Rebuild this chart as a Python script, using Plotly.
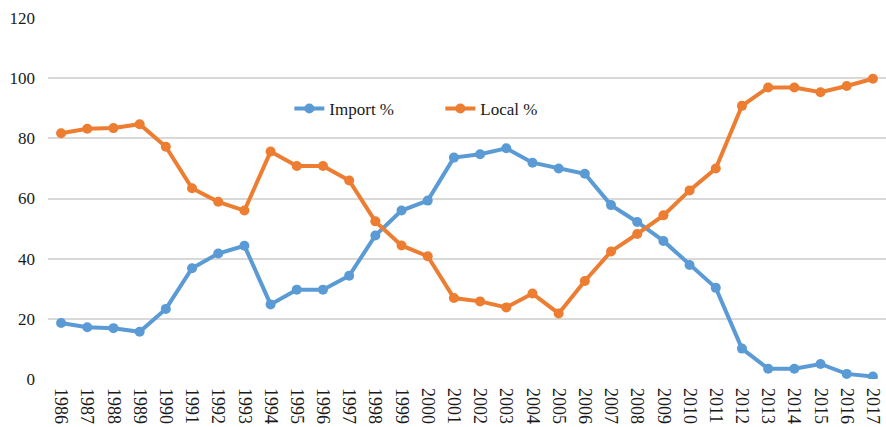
import plotly.graph_objects as go

years = [str(y) for y in range(1986, 2018)]
import_pct = [18.6, 17.2, 16.9, 15.7, 23.3, 36.8, 41.7, 44.3, 24.8, 29.7, 29.7, 34.3,
              47.7, 56.0, 59.3, 73.6, 74.7, 76.7, 71.9, 70.0, 68.2, 57.8, 52.2, 45.9,
              37.9, 30.3, 10.1, 3.4, 3.4, 5.0, 1.7, 0.8]
local_pct = [81.7, 83.2, 83.4, 84.7, 77.2, 63.4, 58.9, 56.0, 75.6, 70.8, 70.8, 66.0,
             52.4, 44.4, 40.8, 26.9, 25.8, 23.8, 28.4, 21.8, 32.6, 42.4, 48.2, 54.4,
             62.7, 70.0, 90.8, 96.9, 96.9, 95.3, 97.4, 99.8]
y_ticks = [0, 20, 40, 60, 80, 100, 120]

font_family = "Liberation Serif, Times New Roman, serif"

fig = go.Figure()
fig.add_trace(go.Scatter(x=years, y=import_pct, name="Import %", mode="lines+markers",
                         line=dict(color="#5B9BD5", width=4),
                         marker=dict(color="#5B9BD5", size=10)))
fig.add_trace(go.Scatter(x=years, y=local_pct, name="Local %", mode="lines+markers",
                         line=dict(color="#ED7D31", width=4),
                         marker=dict(color="#ED7D31", size=10)))

fig.update_layout(
    width=886, height=427,
    margin=dict(l=48, r=0, t=18, b=48),
    paper_bgcolor="white", plot_bgcolor="white",
    font=dict(family=font_family, size=17, color="#1a1a1a"),
    showlegend=True,
    legend=dict(orientation="h", x=0.288, y=0.748, xanchor="left", yanchor="middle",
                bgcolor="rgba(0,0,0,0)", font=dict(size=17, family=font_family),
                entrywidth=106, entrywidthmode="pixels"),
    xaxis=dict(type="category", range=[-0.5, len(years) - 0.5], tickangle=90,
               showgrid=False, zeroline=False, showline=False, ticks="",
               tickfont=dict(size=18), automargin=False, ticklabelstandoff=8),
    yaxis=dict(range=[0, 120], tickvals=y_ticks, showgrid=True, gridcolor="#D9D9D9",
               gridwidth=1.5, zeroline=False, showline=False, ticks="",
               tickfont=dict(size=17), automargin=False, ticklabelstandoff=12),
)

fig.write_html("out.html", config={"displayModeBar": False},
               post_script="document.body.style.margin='0';document.body.style.overflow='hidden';")
